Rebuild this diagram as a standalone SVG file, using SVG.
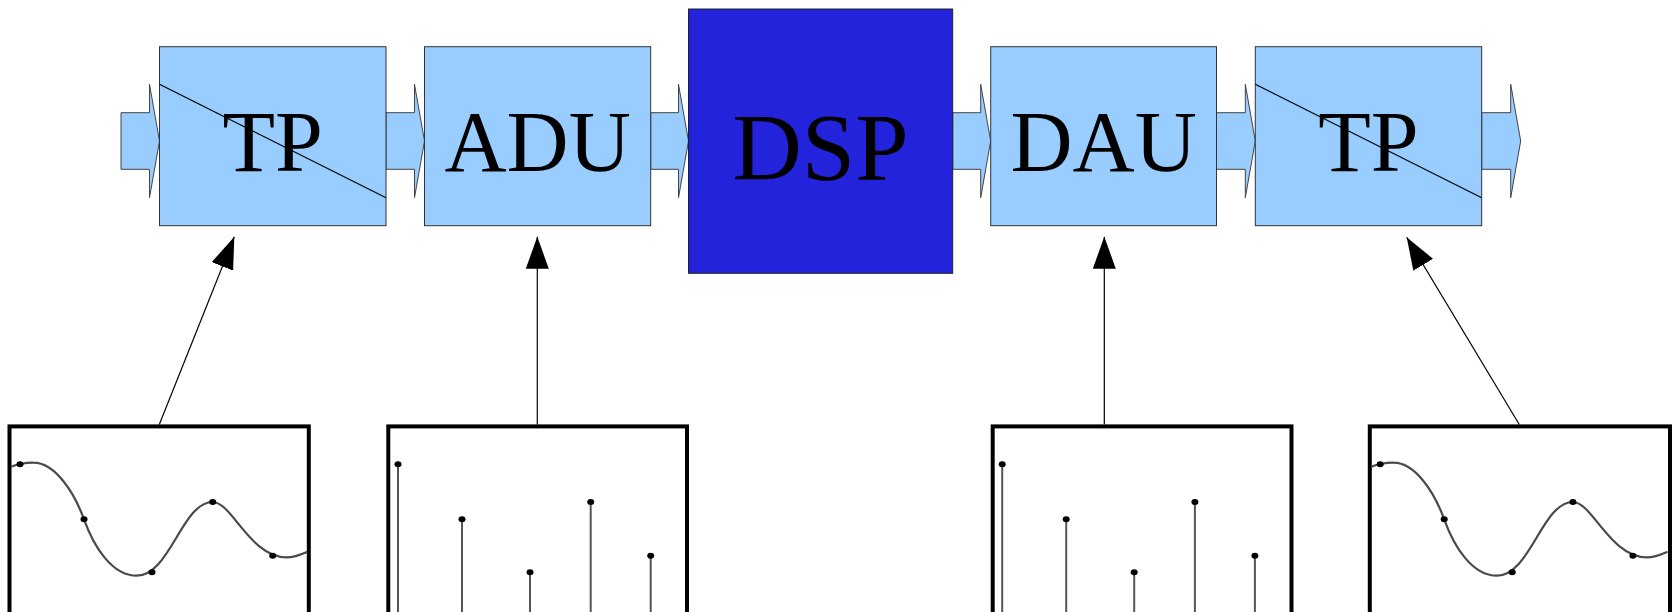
<svg xmlns="http://www.w3.org/2000/svg" width="1673" height="612" viewBox="0 0 1673 612">
<style>
.blk{fill:#99CCFF;stroke:#333;stroke-width:1}
.dsp{fill:#2323DC;stroke:#222;stroke-width:1}
.lbl{font-family:"Liberation Serif","Times New Roman",serif;fill:#000;text-anchor:middle}
.flow{fill:#99CCFF;stroke:#444;stroke-width:1;stroke-linejoin:miter}
.diag{stroke:#000;stroke-width:1.2}
.panel{fill:#fff;stroke:#000;stroke-width:4}
.curve{fill:none;stroke:#4a4a4a;stroke-width:2.2}
.stem{stroke:#555;stroke-width:2}
.dot{fill:#000}
.conn{stroke:#000;stroke-width:1.2;fill:none}
</style>
<defs>
<marker id="ah" markerUnits="userSpaceOnUse" viewBox="-32 -11.5 32 23" markerWidth="32" markerHeight="23" refX="0" refY="0" orient="auto">
<path d="M0,0 L-32,-11.5 L-32,11.5 Z" fill="#000"/>
</marker>
<g id="wave">
<path class="curve" d="M11.2,466.7 C15,465 25,462.5 33.3,462.7 C55,462.7 74,492 84,519.3 C94,547 112,575.7 136.7,575.7 C170,575.7 182,502 212.7,502 C232,502 250,557.3 286.7,557.3 C295,557.3 302,554 307.3,551.7"/>
<ellipse class="dot" cx="20" cy="464.3" rx="3.5" ry="3"/>
<ellipse class="dot" cx="84" cy="519.3" rx="3.5" ry="3"/>
<ellipse class="dot" cx="152" cy="572.3" rx="3.5" ry="3"/>
<ellipse class="dot" cx="212.7" cy="502" rx="3.5" ry="3"/>
<ellipse class="dot" cx="272.7" cy="555.7" rx="3.5" ry="3"/>
</g>
<g id="stems">
<line class="stem" x1="20" y1="464.3" x2="20" y2="614"/>
<line class="stem" x1="84" y1="519.3" x2="84" y2="614"/>
<line class="stem" x1="152" y1="572.3" x2="152" y2="614"/>
<line class="stem" x1="212.7" y1="502" x2="212.7" y2="614"/>
<line class="stem" x1="272.7" y1="555.7" x2="272.7" y2="614"/>
<ellipse class="dot" cx="20" cy="464.3" rx="3.5" ry="3"/>
<ellipse class="dot" cx="84" cy="519.3" rx="3.5" ry="3"/>
<ellipse class="dot" cx="152" cy="572.3" rx="3.5" ry="3"/>
<ellipse class="dot" cx="212.7" cy="502" rx="3.5" ry="3"/>
<ellipse class="dot" cx="272.7" cy="555.7" rx="3.5" ry="3"/>
</g>
</defs>

<g id="connectors">
<polygon class="flow" points="121,112.7 149.5,112.7 149.5,84.3 159.5,141 149.5,197.7 149.5,169.3 121,169.3"/>
<polygon class="flow" points="386,112.7 414.5,112.7 414.5,84.3 424.5,141 414.5,197.7 414.5,169.3 386,169.3"/>
<polygon class="flow" points="650.7,112.7 678.5,112.7 678.5,84.3 688.5,141 678.5,197.7 678.5,169.3 650.7,169.3"/>
<polygon class="flow" points="952.7,112.7 980.7,112.7 980.7,84.3 990.7,141 980.7,197.7 980.7,169.3 952.7,169.3"/>
<polygon class="flow" points="1216.5,112.7 1245.3,112.7 1245.3,84.3 1255.3,141 1245.3,197.7 1245.3,169.3 1216.5,169.3"/>
<polygon class="flow" points="1481.7,112.7 1510.7,112.7 1510.7,84.3 1520.7,141 1510.7,197.7 1510.7,169.3 1481.7,169.3"/>
<line class="conn" x1="159.3" y1="424.5" x2="234.3" y2="236.7" marker-end="url(#ah)"/>
<line class="conn" x1="537.3" y1="424.5" x2="537.3" y2="236.7" marker-end="url(#ah)"/>
<line class="conn" x1="1104.3" y1="424.5" x2="1104.3" y2="236.7" marker-end="url(#ah)"/>
<line class="conn" x1="1519.3" y1="424.5" x2="1406.7" y2="237.3" marker-end="url(#ah)"/>
</g>

<g id="tp1">
<rect class="blk" x="159.5" y="46.7" width="226.5" height="179"/>
<line class="diag" x1="159.5" y1="84.3" x2="386" y2="197.7"/>
<text class="lbl" x="272.7" y="171" font-size="86">TP</text>
</g>
<g id="adu">
<rect class="blk" x="424.5" y="46.7" width="226.2" height="179"/>
<text class="lbl" x="537.6" y="171" font-size="86">ADU</text>
</g>
<g id="dsp">
<rect class="dsp" x="688.5" y="9" width="264.2" height="264.3"/>
<text class="lbl" x="820.6" y="180" font-size="96">DSP</text>
</g>
<g id="dau">
<rect class="blk" x="990.7" y="46.7" width="225.8" height="179"/>
<text class="lbl" x="1103.6" y="171" font-size="86">DAU</text>
</g>
<g id="tp2">
<rect class="blk" x="1255.3" y="46.7" width="226.4" height="179"/>
<line class="diag" x1="1255.3" y1="84.3" x2="1481.7" y2="197.7"/>
<text class="lbl" x="1368.5" y="171" font-size="86">TP</text>
</g>

<g id="signal-analog-in">
<rect class="panel" x="9.5" y="426.4" width="299.3" height="190"/>
<use href="#wave"/>
</g>
<g id="signal-sampled-in">
<rect class="panel" x="388.3" y="426.4" width="298.7" height="190"/>
<use href="#stems" transform="translate(378,0)"/>
</g>
<g id="signal-sampled-out">
<rect class="panel" x="992.7" y="426.4" width="298.8" height="190"/>
<use href="#stems" transform="translate(982.2,0)"/>
</g>
<g id="signal-analog-out">
<rect class="panel" x="1369.8" y="426.4" width="300.2" height="190"/>
<use href="#wave" transform="translate(1360.2,0)"/>
</g>
</svg>
